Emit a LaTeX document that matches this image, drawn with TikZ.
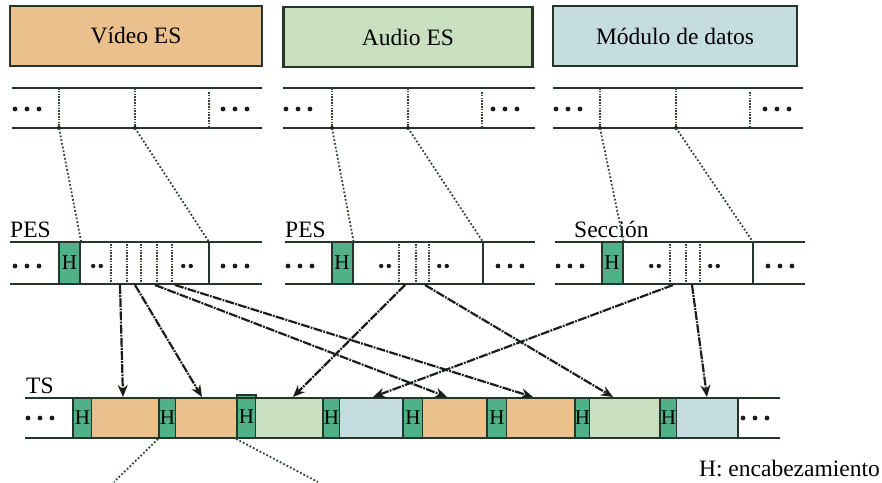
\documentclass[tikz,border=0pt]{standalone}
\usepackage{fontspec}
\setmainfont{Liberation Serif}
\usetikzlibrary{arrows.meta}

\definecolor{vidc}{RGB}{234,192,141}
\definecolor{audc}{RGB}{200,224,192}
\definecolor{datc}{RGB}{197,220,224}
\definecolor{hdrc}{RGB}{80,176,136}
\definecolor{edgec}{RGB}{36,54,42}
\definecolor{dotc}{RGB}{50,68,52}
\definecolor{arrc}{RGB}{26,30,26}

% three and two dots used as ellipses inside the strips
\newcommand\threedots[2]{\foreach \dx in {-12,0,12}{\fill[arrc] (#1+\dx,#2) circle (2.4pt);}}
\newcommand\twodots[2]{\foreach \dx in {-3.8,3.8}{\fill[arrc] (#1+\dx,#2) circle (2.2pt);}}

% one elementary stream strip: x0, x1, three divisions, left/right dots
\newcommand\esstrip[7]{%
  \draw[rail] (#1,88) -- (#2,88);
  \draw[rail] (#1,128) -- (#2,128);
  \draw[divdot] (#3,88) -- (#3,128);
  \draw[divdot] (#4,88) -- (#4,128);
  \draw[divdot] (#5,92) -- (#5,126);
  \fill[arrc] (#3,128) circle (2pt);
  \fill[arrc] (#4,128) circle (2pt);
  \threedots{#6}{109}\threedots{#7}{109}}

% one TS segment: name, x0, x1, style, text
\newcommand\tsseg[5]{%
  \node[#4, minimum width={(#3-#2)*1pt}] (#1) at ({(#2+#3)/2},418) {#5};}

\begin{document}
\begin{tikzpicture}[x=1pt,y=-1pt,
  lbl/.style={font=\fontsize{23.5}{27}\selectfont, inner sep=0pt},
  esbox/.style={draw=edgec, line width=2.4pt, inner sep=0pt,
    minimum height=60pt, font=\fontsize{23.5}{27}\selectfont},
  rail/.style={draw=edgec, line width=2.6pt},
  divsolid/.style={draw=edgec, line width=2.2pt},
  divdot/.style={draw=dotc, line width=1.8pt, dash pattern=on 1.5pt off 1.3pt},
  mapline/.style={draw=dotc, line width=1.8pt, dash pattern=on 1.8pt off 2pt},
  hbox/.style={fill=hdrc, draw=edgec, line width=2pt, inner sep=0pt,
    minimum width=21pt, minimum height=42pt, font=\fontsize{21}{23}\selectfont},
  tsh/.style={fill=hdrc, draw=edgec, line width=1.8pt, inner sep=0pt,
    minimum height=40pt, font=\fontsize{21}{23}\selectfont},
  tsv/.style={fill=vidc, inner sep=0pt, minimum height=40pt},
  tsa/.style={fill=audc, inner sep=0pt, minimum height=40pt},
  tsd/.style={fill=datc, inner sep=0pt, minimum height=40pt},
  feed/.style={draw=arrc, line width=2.2pt,
    dash pattern=on 9pt off 1.2pt on 1.8pt off 1.2pt,
    -{Stealth[length=12pt,width=10pt]}},
]
\useasboundingbox (0,0) rectangle (882,482);

% ---------- elementary streams ----------
\node[esbox, fill=vidc, minimum width=252pt] (ves) at (136,36) {Vídeo ES};
\node[esbox, fill=audc, minimum width=249pt] (aes) at (408,37) {Audio ES};
\node[esbox, fill=datc, minimum width=244pt] (des) at (675,36) {Módulo de datos};

\esstrip{12}{262}{59}{135}{209}{27}{235}
\esstrip{283}{535}{332}{408}{482}{298}{505}
\esstrip{553}{803}{600}{676}{750}{568}{777}

% ---------- PES / section strips ----------
\node[lbl, anchor=base west] (pesv) at (10,237) {PES};
\node[lbl, anchor=base west] (pesa) at (285,237) {PES};
\node[lbl, anchor=base west] (sec) at (574,237) {Sección};

\node[hbox] (hv) at (69.5,263) {H};
\node[hbox] (ha) at (342,263) {H};
\node[hbox] (hd) at (612,263) {H};

\foreach \x in {111,127,141,157,172} \draw[divdot] (\x,244) -- (\x,283);
\foreach \x in {399,416,429} \draw[divdot] (\x,244) -- (\x,283);
\foreach \x in {670,686,700} \draw[divdot] (\x,244) -- (\x,283);

\draw[divsolid] (209,242) -- (209,284);
\draw[divsolid] (483,242) -- (483,284);
\draw[divsolid] (753,242) -- (753,284);

\foreach \a/\b in {10/262, 285/535, 555/805}{
  \draw[rail] (\a,242) -- (\b,242);
  \draw[rail] (\a,284) -- (\b,284);}

\threedots{27}{266}\twodots{97}{266}\twodots{187}{266}\threedots{235}{266}
\threedots{300}{266}\twodots{385}{266}\twodots{443}{266}\threedots{510}{266}
\threedots{570}{266}\twodots{655}{266}\twodots{714}{266}\threedots{780}{266}

% ---------- ES to PES mapping ----------
\coordinate (ve1) at (59,128);   \coordinate (ve2) at (135,128);
\coordinate (ae1) at (332,128);  \coordinate (ae2) at (408,128);
\coordinate (de1) at (600,128);  \coordinate (de2) at (676,128);
\coordinate (vp2) at (209,242);  \coordinate (ap2) at (483,242);
\coordinate (dp2) at (753,242);
\draw[mapline] (ve1) -- (hv.north east);
\draw[mapline] (ve2) -- (vp2);
\draw[mapline] (ae1) -- (ha.north east);
\draw[mapline] (ae2) -- (ap2);
\draw[mapline] (de1) -- (hd.north east);
\draw[mapline] (de2) -- (dp2);

% ---------- transport stream ----------
\node[lbl, anchor=base west] (ts) at (26,393) {TS};

\tsseg{t1}{73}{92}{tsh}{H}
\tsseg{t2}{92}{159}{tsv}{}
\tsseg{t3}{159}{176}{tsh}{H}
\tsseg{t4}{176}{237}{tsv}{}
\node[tsh, minimum width=19pt, minimum height=43pt] (t5) at (246.5,416.5) {H};
\tsseg{t6}{256}{323}{tsa}{}
\tsseg{t7}{323}{340}{tsh}{H}
\tsseg{t8}{340}{403}{tsd}{}
\tsseg{t9}{403}{423}{tsh}{H}
\tsseg{t10}{423}{487}{tsv}{}
\tsseg{t11}{487}{507}{tsh}{H}
\tsseg{t12}{507}{575}{tsv}{}
\tsseg{t13}{575}{590}{tsh}{H}
\tsseg{t14}{590}{660}{tsa}{}
\tsseg{t15}{660}{677}{tsh}{H}
\tsseg{t16}{677}{738}{tsd}{}

\draw[divsolid] (738,398) -- (738,438);
\draw[rail] (25,398) -- (780,398);
\draw[rail] (25,438) -- (780,438);
\threedots{40}{418}\threedots{755}{418}

% ---------- PES packets into TS packets ----------
\coordinate (s1) at (120,285);  \coordinate (e1) at (123,397);
\coordinate (s2) at (135,285);  \coordinate (e2) at (202,397);
\coordinate (s3) at (155,285);  \coordinate (e3) at (447,397);
\coordinate (s4) at (175,285);  \coordinate (e4) at (533,397);
\coordinate (s5) at (405,285);  \coordinate (e5) at (293,397);
\coordinate (s6) at (425,285);  \coordinate (e6) at (613,397);
\coordinate (s7) at (673,285);  \coordinate (e7) at (373,397);
\coordinate (s8) at (692,285);  \coordinate (e8) at (707,397);
\foreach \i in {1,...,8} \draw[feed] (s\i) -- (e\i);

% ---------- continuation below the TS ----------
\coordinate (b1) at (114,482);  \coordinate (b2) at (318,482);
\draw[mapline] (t3.south west) -- (b1);
\draw[mapline] (t5.south west) -- (b2);

\node[lbl, anchor=base east] (legend) at (880,476) {H: encabezamiento};
\end{tikzpicture}
\end{document}
